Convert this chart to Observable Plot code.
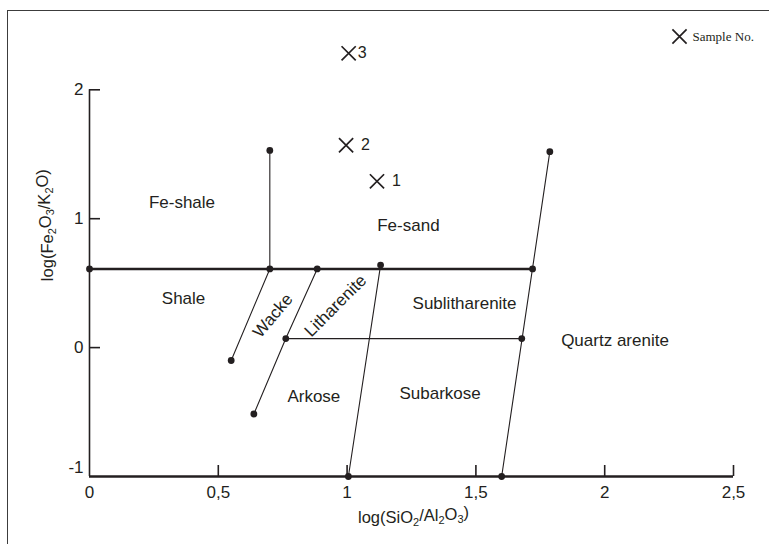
<!DOCTYPE html>
<html><head><meta charset="utf-8">
<script src="https://cdn.jsdelivr.net/npm/d3@7"></script>
<script src="https://cdn.jsdelivr.net/npm/@observablehq/plot@0.6"></script>
<style>
body{margin:0;background:#fff;}
#wrap{position:relative;width:769px;height:544px;overflow:hidden;background:#fff;}
#border{position:absolute;left:7px;top:10px;width:800px;height:600px;border-top:1.5px solid #3c3c3c;border-left:1.5px solid #3c3c3c;pointer-events:none;}
#chart{position:absolute;left:0;top:0;}
</style></head>
<body><div id="wrap"><div id="chart"></div><div id="border"></div></div>
<script>
// ---- data ----
const xTicks = [0, 0.5, 1, 1.5, 2, 2.5];
const xTickLabels = ["0", "0,5", "1", "1,5", "2", "2,5"];
const yTicks = [2, 1, 0];
const yTickLabels = ["2", "1", "0"];
const yBottomTick = [-1];
const yBottomTickLabel = ["-1"];
const xTitle = "log(SiO2/Al2O3)";
const yTitle = "log(Fe2O3/K2O)";

// main (thick) Fe boundary
const feBoundary = [[0, 0.61], [1.72, 0.61]];
// thin classification boundaries
const boundaries = [
  [[0.70, 0.61], [0.70, 1.53]],
  [[0.70, 0.61], [0.55, -0.10]],
  [[0.884, 0.61], [0.762, 0.07], [0.638, -0.515]],
  [[0.762, 0.07], [1.678, 0.07]],
  [[1.13, 0.64], [1.005, -1.0]],
  [[1.787, 1.52], [1.60, -1.0]]
];
const nodes = [
  [0, 0.61], [0.70, 0.61], [0.70, 1.53], [0.884, 0.61], [1.13, 0.64],
  [1.72, 0.61], [1.787, 1.52], [0.55, -0.10], [0.762, 0.07], [0.638, -0.515],
  [1.678, 0.07], [1.005, -1.0], [1.60, -1.0]
];
// region names and their positions (data units)
const regionNames = ["Fe-shale", "Fe-sand", "Shale", "Sublitharenite", "Quartz arenite", "Arkose", "Subarkose"];
const regionX = [0.359, 1.238, 0.365, 1.456, 2.04, 0.871, 1.361];
const regionY = [1.128, 0.947, 0.384, 0.340, 0.052, -0.376, -0.360];
const slantNames = ["Wacke", "Litharenite"];
const slantX = [0.712, 0.955];
const slantY = [0.248, 0.325];
// samples
const sampleIds = ["1", "2", "3"];
const sampleX = [1.116, 0.996, 1.006];
const sampleY = [1.29, 1.570, 2.283];
const legendLabel = "Sample No.";

// ---- build ----
const ink = "#231f20";
const W = 769, H = 544;
const mT = 89.3, mB = 68, mL = 89, mR = 36;
const innerW = W - mL - mR, innerH = H - mT - mB;

const segs = boundaries.flatMap((s, i) => s.map(p => ({x: p[0], y: p[1], seg: i})));
const fe = feBoundary.map(p => ({x: p[0], y: p[1]}));
const pts = nodes.map(p => ({x: p[0], y: p[1]}));
const regions = regionNames.map((n, i) => ({name: n, x: regionX[i], y: regionY[i]}));
const slants = slantNames.map((n, i) => ({name: n, x: slantX[i], y: slantY[i]}));
const samples = sampleIds.map((id, i) => ({id, x: sampleX[i], y: sampleY[i]}));

const chart = Plot.plot({
  width: W, height: H,
  marginTop: mT, marginBottom: mB, marginLeft: mL, marginRight: mR,
  x: {domain: [0, 2.5]},
  y: {domain: [-1, 2]},
  style: {fontFamily: "'Liberation Sans', Arial, sans-serif", fontSize: "17px", color: ink, background: "transparent", overflow: "visible"},
  marks: [
    // axes
    Plot.ruleX([0], {y1: -1, y2: 2, stroke: ink, strokeWidth: 1.6}),
    Plot.ruleY([-1], {x1: 0, x2: 2.5, stroke: ink, strokeWidth: 2.4}),
    Plot.tickX(xTicks.slice(1), {x: d => d, insetTop: innerH - 11, stroke: ink, strokeWidth: 1.6}),
    Plot.tickY(yTicks, {y: d => d, insetRight: innerW - 11, stroke: ink, strokeWidth: 1.6}),
    Plot.axisX(xTicks, {tickSize: 0, tickPadding: 9, label: null, fontSize: 17, fill: ink,
      tickFormat: d => xTickLabels[xTicks.indexOf(d)]}),
    Plot.axisY(yTicks, {tickSize: 0, tickPadding: 6, label: null, fontSize: 17, fill: ink,
      tickFormat: d => yTickLabels[yTicks.indexOf(d)]}),
    Plot.axisY(yBottomTick, {tickSize: 0, tickPadding: 6, label: null, fontSize: 17, fill: ink, dy: -9,
      tickFormat: d => yBottomTickLabel[yBottomTick.indexOf(d)]}),
    // titles
    Plot.text([xTitle], {frameAnchor: "bottom", lineAnchor: "middle", dy: 41, dx: 2, fontSize: 16.5, fill: ink}),
    Plot.text([yTitle], {frameAnchor: "left", lineAnchor: "middle", rotate: -90, dx: -42, dy: -2, fontSize: 16.5, fill: ink}),
    // boundaries
    Plot.line(fe, {x: "x", y: "y", stroke: ink, strokeWidth: 2.4}),
    Plot.line(segs, {x: "x", y: "y", z: "seg", stroke: ink, strokeWidth: 1.1}),
    Plot.dot(pts, {x: "x", y: "y", r: 3.4, fill: ink, stroke: "none"}),
    // region labels
    Plot.text(regions, {x: "x", y: "y", text: "name", fontSize: 17, fill: ink}),
    Plot.text(slants.filter(d => d.name === "Wacke"), {x: "x", y: "y", text: "name", rotate: -50, fontSize: 17, fill: ink}),
    Plot.text(slants.filter(d => d.name === "Litharenite"), {x: "x", y: "y", text: "name", rotate: -45, fontSize: 17, fill: ink}),
    // samples
    Plot.dot(samples, {x: "x", y: "y", symbol: "times", r: 6.5, stroke: ink, strokeWidth: 1.7}),
    Plot.text(samples.filter(d => d.id !== "3"), {x: "x", y: "y", text: "id", textAnchor: "start", dx: 15, fontSize: 16, fill: ink}),
    Plot.text(samples.filter(d => d.id === "3"), {x: "x", y: "y", text: "id", textAnchor: "start", dx: 9, fontSize: 16, fill: ink}),
    // legend
    Plot.dot([legendLabel], {frameAnchor: "top-right", dx: -54, dy: -53.3, symbol: "times", r: 6.5, stroke: ink, strokeWidth: 1.7}),
    Plot.text([legendLabel], {frameAnchor: "top-right", textAnchor: "start", lineAnchor: "middle", dx: -41, dy: -53,
      fontFamily: "'Liberation Serif', 'Times New Roman', serif", fontSize: 13, fill: ink})
  ]
});
document.getElementById("chart").appendChild(chart);

// subscripts for chemical formulas in axis titles
d3.select(chart).selectAll("text").each(function() {
  const t = this.textContent;
  if (t !== xTitle && t !== yTitle) return;
  const el = d3.select(this);
  el.text(null);
  let sub = false;
  for (const ch of t) {
    const isDigit = /[0-9]/.test(ch);
    const ts = el.append("tspan").text(ch);
    if (isDigit && !sub) { ts.attr("dy", "0.28em"); sub = true; }
    else if (!isDigit && sub) { ts.attr("dy", "-0.28em"); sub = false; }
    if (isDigit) ts.attr("font-size", "11px");
  }
});
</script>
</body></html>
